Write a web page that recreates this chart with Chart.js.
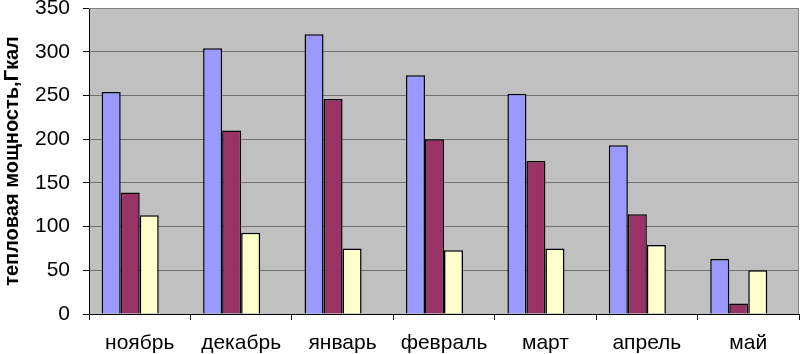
<!DOCTYPE html>
<html>
<head>
<meta charset="utf-8">
<script src="https://cdn.jsdelivr.net/npm/chart.js@4/dist/chart.umd.min.js"></script>
<style>
  body { margin: 0; background: #fff; }
  #wrap { width: 800px; height: 354px; }
</style>
</head>
<body>
<div id="wrap"><canvas id="heatChart" width="800" height="354"></canvas></div>
<script>
const months = ['ноябрь', 'декабрь', 'январь', 'февраль', 'март', 'апрель', 'май'];
const series1 = [254, 304, 320, 273, 252, 193, 63];
const series2 = [139, 210, 246, 200, 175, 114, 12];
const series3 = [113, 93, 75, 73, 75, 79, 50];
const series4 = [null, null, null, null, null, null, null]; // empty slot, as in the original
const yTitle = 'тепловая мощность,Гкал';

const FONT = "'Liberation Sans', Arial, sans-serif";

// grey plot area + grey frame on top/right
const plotBg = {
  id: 'plotBg',
  beforeDraw(chart) {
    const a = chart.chartArea, ctx = chart.ctx;
    ctx.save();
    ctx.fillStyle = '#c0c0c0';
    ctx.fillRect(a.left, a.top, a.right - a.left, a.bottom - a.top);
    ctx.restore();
  },
  afterDraw(chart) {
    const a = chart.chartArea, ctx = chart.ctx;
    ctx.save();
    ctx.strokeStyle = '#808080';
    ctx.lineWidth = 1;
    ctx.beginPath();
    ctx.moveTo(a.left, a.top + 0.5);
    ctx.lineTo(a.right - 0.5, a.top + 0.5);
    ctx.lineTo(a.right - 0.5, a.bottom);
    ctx.stroke();
    ctx.restore();
  }
};

const ctx = document.getElementById('heatChart').getContext('2d');
new Chart(ctx, {
  type: 'bar',
  data: {
    labels: months,
    datasets: [
      { data: series1, backgroundColor: '#9999ff' },
      { data: series2, backgroundColor: '#993366' },
      { data: series3, backgroundColor: '#ffffcc' },
      { data: series4, backgroundColor: '#ffffff' }
    ]
  },
  options: {
    responsive: false,
    animation: false,
    layout: { padding: { top: 8, right: 1, left: 0, bottom: 0 } },
    datasets: {
      bar: {
        borderColor: '#000000',
        borderWidth: 1.5,
        categoryPercentage: 0.75,
        barPercentage: 1.0
      }
    },
    plugins: {
      legend: { display: false },
      tooltip: { enabled: false }
    },
    scales: {
      x: {
        afterFit(scale) { scale.height = 40; scale.paddingLeft = 0; scale.paddingRight = 0; },
        grid: {
          offset: true,
          drawOnChartArea: false,
          tickLength: 6,
          color: '#000000'
        },
        border: { color: '#000000', width: 1 },
        ticks: {
          color: '#000000',
          padding: 11,
          font: { family: FONT, size: 21 }
        }
      },
      y: {
        min: 0,
        max: 350,
        afterFit(scale) { scale.width = 89; scale.paddingTop = 0; scale.paddingBottom = 0; },
        grid: {
          color: '#707070',
          tickColor: '#000000',
          tickLength: 6
        },
        border: { color: '#000000', width: 1 },
        ticks: {
          stepSize: 50,
          color: '#000000',
          padding: 13,
          font: { family: FONT, size: 21 }
        },
        title: {
          display: true,
          text: yTitle,
          color: '#000000',
          padding: { top: 0, bottom: 0 },
          font: { family: FONT, size: 20, weight: 'bold' }
        }
      }
    }
  },
  plugins: [plotBg]
});
</script>
</body>
</html>
